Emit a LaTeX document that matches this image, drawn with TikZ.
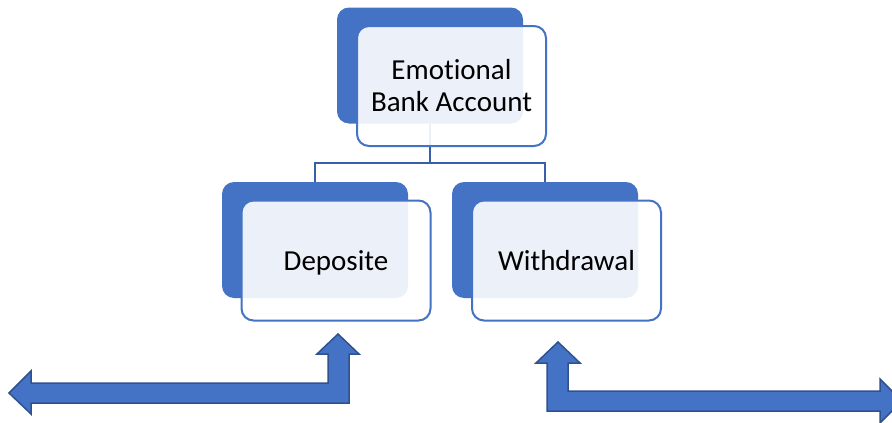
\documentclass[tikz,border=0pt]{standalone}
\usepackage[usenames,dvipsnames]{xcolor}
\usepackage{fontspec}
\setmainfont{Carlito}[Ligatures=NoCommon]
\usetikzlibrary{calc}

\definecolor{boxblue}{RGB}{68,114,196}
\definecolor{edgeblue}{RGB}{47,82,143}
\definecolor{linkblue}{RGB}{58,95,170}

\begin{document}
\begin{tikzpicture}[x=1pt, y=-1pt,
    backbox/.style = {rectangle, rounded corners=12pt, fill=boxblue, minimum width = 186pt, minimum height = 116pt},
    frontbox/.style = {rectangle, rounded corners=12pt, draw=boxblue, line width=2pt, fill=white, fill opacity=0.9, text opacity=1, minimum width = 189pt, minimum height = 120pt, align=center, font=\fontsize{29}{32}\selectfont},
    oneline/.style = {text height=19pt, text depth=0pt},
    link/.style = {draw=linkblue, line width=1.8pt},
    blockarrow/.style = {fill=boxblue, draw=edgeblue, line width=1.5pt, line join=miter}]
    \useasboundingbox (0,0) rectangle (892,423);
    \clip (0,0) rectangle (892,423);

    % back plates
    \node [backbox] (acctback) at (430,65.5) {};
    \node [backbox] (depback) at (315,240) {};
    \node [backbox] (wdrback) at (545,240) {};

    % tree lines
    \draw [link] (acctback.south) -- ++(0,39) -| (depback.north);
    \draw [link] (acctback.south) -- ++(0,39) -| (wdrback.north);

    % front cards
    \node [frontbox] (acct) at (451.5,86) {Emotional\\Bank Account};
    \node [frontbox, oneline] (dep) at (336,260.5) {Deposite};
    \node [frontbox, oneline] (wdr) at (566.5,260.5) {Withdrawal};

    % bent arrows
    \draw [blockarrow] (9,393) -- (31,371) -- (31,383) -- (328,383) -- (328,354) -- (317,354)
      -- (338,334) -- (359,354) -- (349,354) -- (349,403) -- (31,403) -- (31,414) -- cycle;
    \draw [blockarrow] (558,342) -- (580,363) -- (568,363) -- (568,391) -- (880,391) -- (880,379)
      -- (902,401) -- (880,423) -- (880,411) -- (547,411) -- (547,363) -- (536,363) -- cycle;
  \end{tikzpicture}
\end{document}
